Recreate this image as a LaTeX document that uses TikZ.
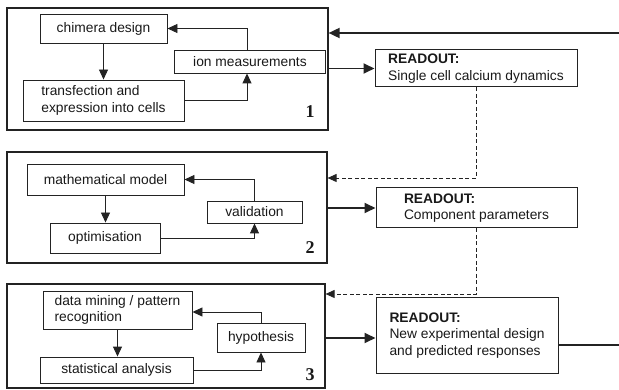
\documentclass[tikz,border=0pt]{standalone}
\usepackage{fontspec}
\setmainfont{Liberation Sans}
\newfontfamily\numfont{Liberation Serif}
\usepackage{tikz}
\usetikzlibrary{arrows.meta,positioning}
\definecolor{linegray}{RGB}{35,35,35}
\definecolor{textgray}{RGB}{25,25,25}

\begin{document}
\begin{tikzpicture}[x=1pt,y=-1pt,font=\fontsize{13.8}{16.5}\selectfont,text=textgray,
  panel/.style={draw=linegray,line width=1.2pt,inner sep=0pt},
  stepbox/.style={draw=linegray,line width=0.9pt,inner sep=0pt},
  readout/.style={draw=linegray,line width=1pt,align=left,inner sep=0pt},
  flow/.style={draw=linegray,line width=0.9pt,-{Triangle[length=10pt,width=9pt]}},
  feed/.style={draw=linegray,line width=1.8pt,-{Triangle[length=11pt,width=10pt]}},
  back/.style={draw=linegray,line width=0.9pt,dash pattern=on 4pt off 2.5pt,-{Triangle[length=9pt,width=8pt]}},
  panelno/.style={font=\numfont\bfseries\fontsize{18}{18}\selectfont}]
  \useasboundingbox (0,0) rectangle (619,390);
  \node[panel,minimum width=321,minimum height=122] (stage1) at (167.5,69) {};
  \node[stepbox,minimum width=127,minimum height=29] (chimera) at (103.5,28.5) {chimera design};
  \node[stepbox,minimum width=151,minimum height=23] (ionmeas) at (250,61.5) {ion measurements};
  \node[stepbox,minimum width=161,minimum height=41,align=left] (transfect) at (103.5,100.5) {transfection and\\expression into cells};
  \node[panelno] (num1) at (310,112) {1};
  \draw[flow] (chimera.south) -- (chimera.south |- transfect.north);
  \draw[flow] (transfect.east) -| ([xshift=-3pt]ionmeas.south);
  \draw[flow] ([xshift=-3pt]ionmeas.north) |- (chimera.east);
  \node[panel,minimum width=320,minimum height=111] (stage2) at (167,207.5) {};
  \node[stepbox,minimum width=157,minimum height=31] (mathmodel) at (105.5,179.5) {mathematical model};
  \node[stepbox,minimum width=95,minimum height=22] (valid) at (254.5,212) {validation};
  \node[stepbox,minimum width=110,minimum height=30] (optim) at (105,238) {optimisation};
  \node[panelno] (num2) at (310,248) {2};
  \draw[flow] (mathmodel.south) -- (mathmodel.south |- optim.north);
  \draw[flow] (optim.east) -| (valid.south);
  \draw[flow] (valid.north) |- (mathmodel.east);
  \node[panel,minimum width=318,minimum height=104] (stage3) at (166,336) {};
  \node[stepbox,minimum width=149,minimum height=38,align=left] (datamining) at (117.5,310) {data mining / pattern\\recognition};
  \node[stepbox,minimum width=88,minimum height=29] (hypo) at (261,337.5) {hypothesis};
  \node[stepbox,minimum width=153,minimum height=26] (stats) at (116.5,370) {statistical analysis};
  \node[panelno] (num3) at (310,375) {3};
  \draw[flow] (datamining.south) -- (datamining.south |- stats.north);
  \draw[flow] (stats.east) -| (hypo.south);
  \draw[flow] (hypo.north) |- ([yshift=-2pt]datamining.east);
  \node[readout,minimum width=202,minimum height=37] (out1) at (476,68.5) {\textbf{READOUT:}\\Single cell calcium dynamics};
  \node[readout,minimum width=201,minimum height=40] (out2) at (476.5,208) {\textbf{READOUT:}\\Component parameters};
  \node[readout,minimum width=182,minimum height=75] (out3) at (467,335.5) {\textbf{READOUT:}\\New experimental design\\and predicted responses};
  \draw[feed] (out1.west -| stage1.east) -- (out1.west);
  \draw[feed] (out2.west -| stage2.east) -- (out2.west);
  \draw[feed] ([yshift=-2.5pt]out3.west -| stage3.east) -- ([yshift=-2.5pt]out3.west);
  \draw[back] (out1.south) |- ([yshift=29.5pt]stage2.east);
  \draw[back] (out2.south) |- ([yshift=42pt]stage3.east);
  \coordinate (loopin) at (619,33);
  \coordinate (loopout) at (619,345);
  \draw[feed] (loopin) -- (loopin -| stage1.east);
  \draw[feed,-] (loopout -| out3.east) -- (loopout);
\end{tikzpicture}
\end{document}
